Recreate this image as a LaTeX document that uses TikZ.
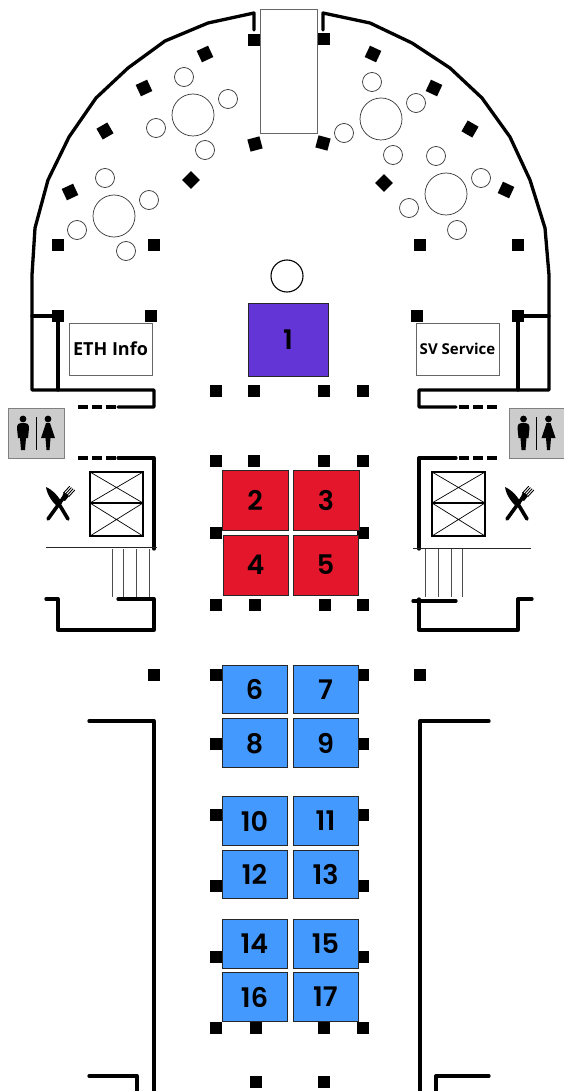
\documentclass[tikz,border=0pt]{standalone}
\usepackage{fontspec}
\setmainfont{Open Sans}
\newfontfamily\numfont{Poppins SemiBold}
\definecolor{stagepurple}{HTML}{6435D6}
\definecolor{boothred}{HTML}{E4162B}
\definecolor{boothblue}{HTML}{4499FF}
\definecolor{signgray}{HTML}{CCCCCC}
\tikzset{
    wall/.style={line width=3.3pt, line join=round, line cap=round},
    thinwall/.style={line width=1pt, black!85},
    stair/.style={line width=0.8pt, black!70},
    pillar/.style={fill=black, minimum size=12.5pt, inner sep=0pt},
    seat/.style={draw=black!80, line width=0.7pt},
    booth/.style={draw=black!85, line width=0.9pt, inner sep=0pt, text depth=0pt, font=\fontsize{27}{27}\numfont},
    infobox/.style={draw=black!60, line width=0.8pt, minimum width=83pt, minimum height=52pt, inner sep=0pt},
    signbox/.style={draw=black!50, fill=signgray, line width=0.8pt, minimum height=50pt, inner sep=0pt},
    toilets/.pic={
        \fill (-13,-14) circle (3.4);
        \fill (-19,-5) .. controls (-19,-9) and (-17,-10) .. (-15,-10) -- (-11,-10)
            .. controls (-9,-10) and (-7,-9) .. (-7,-5) -- (-8,5) -- (-10,5) -- (-11,17) -- (-15,17) -- (-16,5) -- (-18,5) -- cycle;
        \draw[line width=0.9pt] (0,-16) -- (0,17);
        \fill (12,-14) circle (3.4);
        \fill (10,-10) -- (14,-10) -- (19,5) -- (14.5,5) -- (13.5,17) -- (10.5,17) -- (9.5,5) -- (5,5) -- cycle;
    },
    cutlery/.pic={
        \draw[line width=3.6pt, line cap=round] (-1,1) -- (8,16); % knife handle
        \fill (-14,-16) .. controls (-7,-13) and (-1,-6) .. (2,0) -- (-2,4) .. controls (-7,0) and (-13,-8) .. cycle;
        \draw[line width=3.6pt, line cap=round] (-12,16) -- (4,-6); % fork handle
        \fill (1,-4) -- (4,-11) -- (9,-7) -- (5,-2) -- cycle;
        \foreach \t in {0,1.7,3.4,5.1} {
            \draw[line width=0.9pt] ($(3.5,-10)+(\t,\t*0.75)$) -- ++(6.2,-6.8); % tine
        }
    }
}
\usetikzlibrary{calc}
\begin{document}
\begin{tikzpicture}[x=1pt, y=-1pt]
    \useasboundingbox (0,0) rectangle (563,1091);

    % Stage table
    \node[draw=black!60, line width=0.8pt, minimum width=57pt, minimum height=124pt, inner sep=0pt] (stagetable) at (288.5,71) {};

    % Outer walls
    \draw[wall] (254,30) -- (254,13) -- (208,23) -- (165,41) -- (128,68) -- (96,98) -- (69,137) -- (48,180) -- (35,228) -- (32,275) -- (32,390) -- (154,390) -- (154,407) -- (118,407);
    \draw[wall] (323,30) -- (323,13) -- (370,23) -- (412,43) -- (450,68) -- (482,98) -- (510,137) -- (530,180) -- (545,228) -- (549,275) -- (549,390) -- (419,390) -- (419,407) -- (456,407);
    \draw[wall] (32,316) -- (58,316) -- (58,390);
    \draw[wall] (549,316) -- (518,316) -- (518,390);

    % Corridors to the toilets
    \foreach \y in {407,458} {
        \draw[line width=3.3pt, dash pattern=on 10pt off 4pt] (78,\y) -- (116,\y);
        \draw[line width=3.3pt, dash pattern=on 10pt off 4pt] (497,\y) -- (459,\y);
    }
    \draw[wall] (118,458) -- (154,458) -- (154,549);
    \draw[wall] (456,458) -- (419,458) -- (419,549);
    \draw[thinwall] (46,547) -- (157,547);
    \draw[thinwall] (413,548) -- (531,548);

    % Stairs
    \foreach \x in {112,123,136,149} {
        \draw[stair] (\x,549) -- (\x,597);
    }
    \foreach \x in {425,438,451,462} {
        \draw[stair] (\x,549) -- (\x,597);
    }

    % Walls below the stairs
    \draw[wall] (46,599) -- (58,599) -- (58,630) -- (154,630) -- (154,599) -- (118,599);
    \draw[wall] (532,599) -- (518,599) -- (518,630) -- (419,630) -- (419,599);
    \draw[wall] (413,601) -- (456,601);

    % Side halls
    \draw[wall] (89,721) -- (154,721) -- (154,1095);
    \draw[wall] (489,721) -- (420,721) -- (420,1095);
    \draw[wall] (89,1076) -- (137,1076) -- (137,1095);
    \draw[wall] (489,1076) -- (436,1076) -- (436,1095);

    % Lifts
    \foreach \x in {90,432} {
        \draw[line width=1.3pt] (\x,472) rectangle (\x+53,536);
        \draw[line width=1.6pt] (\x,503) -- (\x+53,503);
        \draw[line width=0.7pt] (\x,472) -- (\x+53,503) (\x+53,472) -- (\x,503);
        \draw[line width=0.7pt] (\x,503) -- (\x+53,536) (\x+53,503) -- (\x,536);
    }

    % Round tables
    \foreach \bx/\by/\ax/\ay/\cx/\cy/\dx/\dy/\ex/\ey in {193/115/184/77/228/99/156/128/205/150, 114/216/105/178/149/200/77/230/126/251, 381/119/372/82/416/103/344/133/393/155, 446/194/436/156/481/178/409/208/457/230} {
        \draw[seat] (\bx,\by) circle (21);
        \draw[seat] (\ax,\ay) circle (9.5);
        \draw[seat] (\cx,\cy) circle (9.5);
        \draw[seat] (\dx,\dy) circle (9.5);
        \draw[seat] (\ex,\ey) circle (9.5);
    }
    \draw[line width=1.1pt] (287,276) circle (16);

    % Pillars
    \foreach \x/\y/\r [count=\i] in {254/40/0, 324/39/0, 205/54/25, 144/88/25, 105/131/30, 70/192/25, 191/180/45, 255/144/15,
        373/54/-25, 434/88/-25, 470/129/-30, 506/190/-25, 384/183/45, 323/143/-15,
        58/245/0, 154/245/0, 420/245/0, 518/245/0, 58/316/0, 151/316/0, 417/316/0, 518/316/0} {
        \node[pillar, rotate=\r] (pil\i) at (\x,\y) {};
    }
    \foreach \x/\y [count=\i] in {216/391, 254/391, 324/391, 363/391, 216/461, 254/461, 324/461, 363/461, 216/533, 363/533,
        216/605, 255/605, 325/605, 363/605, 154/675, 216/675, 363/675, 420/675, 216/744, 363/744, 216/815, 363/815,
        216/886, 363/886, 216/957, 363/957, 216/1028, 256/1028, 324/1028, 363/1028, 256/1082, 324/1082} {
        \node[pillar] (col\i) at (\x,\y) {};
    }

    % Booths
    \node[booth, fill=stagepurple, minimum width=80pt, minimum height=73pt] (s1) at (288,339.5) {1};
    \foreach \name/\x/\y/\w/\h in {2/255/500/66/60, 3/326/500/66/60, 4/255.5/565/65/60, 5/325.5/565/65/60} {
        \node[booth, fill=boothred, minimum width=\w pt, minimum height=\h pt] (s\name) at (\x,\y) {\name};
    }
    \foreach \name/\x/\y in {6/254.5/689.5, 7/325.5/689.5, 8/254.5/743, 9/325.5/743, 10/254.5/821, 11/325.5/821,
        12/254.5/874.5, 13/325.5/874.5, 14/254.5/944, 15/325.5/944, 16/254.5/997, 17/325.5/997} {
        \node[booth, fill=boothblue, minimum width=65pt, minimum height=48.5pt] (s\name) at (\x,\y) {\name};
    }

    % Info desks
    \node[infobox, font=\fontsize{18}{18}\selectfont\bfseries] (ethinfo) at (110.5,349) {ETH Info};
    \node[infobox, font=\fontsize{15}{18}\selectfont\bfseries] (svservice) at (457.5,349) {SV Service};

    % Toilets and food
    \node[signbox, minimum width=56pt] (wcleft) at (36,433) {};
    \node[signbox, minimum width=55pt] (wcright) at (536.5,433) {};
    \pic at (36,433) {toilets};
    \pic at (536.5,433) {toilets};
    \pic at (60,503) {cutlery};
    \pic at (519,503) {cutlery};
\end{tikzpicture}
\end{document}
